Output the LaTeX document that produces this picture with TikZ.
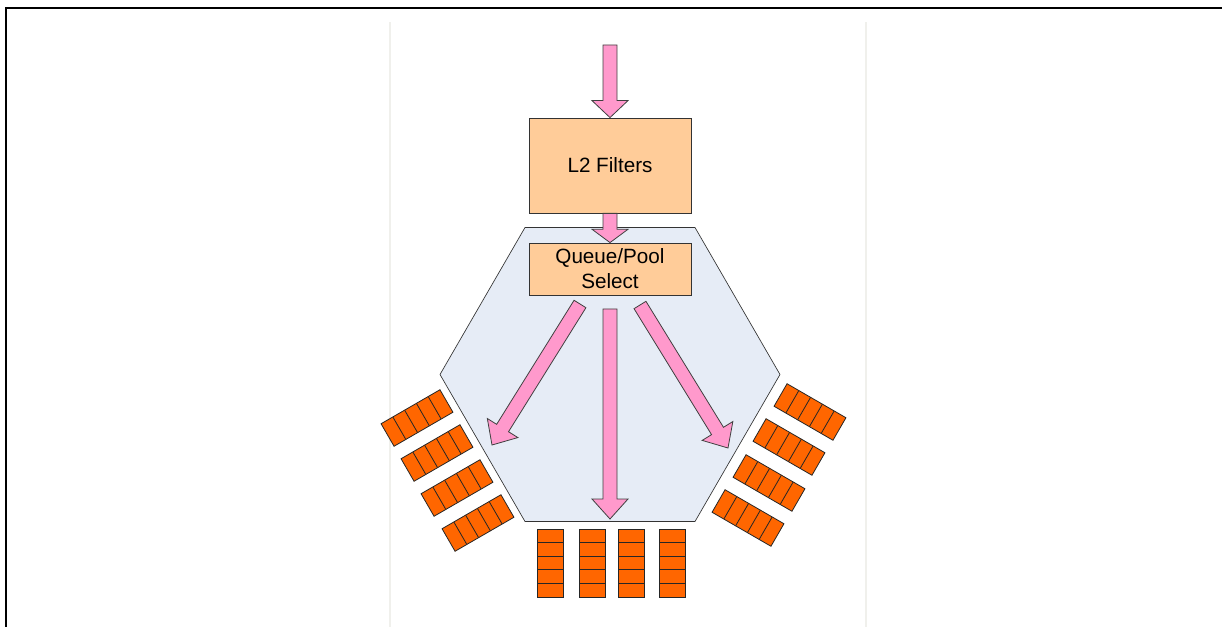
\documentclass[tikz,border=0pt]{standalone}
\usepackage{fontspec}
\setmainfont{Liberation Sans}
\usetikzlibrary{calc}
\definecolor{FilterPeach}{HTML}{FFCC99}
\definecolor{ArrowPink}{HTML}{FF99CC}
\definecolor{QueueOrange}{HTML}{FF6600}
\definecolor{PoolBlue}{HTML}{E6ECF6}
\definecolor{PanelGray}{HTML}{F0F0EC}

% block arrow from #2 to #3, optional head length
\newcommand{\fatarrow}[3][12.75pt]{%
  \coordinate (fa-h) at ($(#3)!#1!(#2)$);
  \filldraw[fatarrow] ($(#2)!5.25pt!90:(#3)$) -- ($(fa-h)!5.25pt!-90:(#2)$)
    -- ($(fa-h)!13.5pt!-90:(#2)$) -- (#3) -- ($(fa-h)!13.5pt!90:(#2)$)
    -- ($(fa-h)!5.25pt!90:(#2)$) -- ($(#2)!5.25pt!-90:(#3)$) -- cycle;}

\tikzset{
  pics/queue/.style={code={
    \draw[queuebox] (-34,-13) rectangle (34,13);
    \foreach \k in {1,...,4}
      \draw[queuebox] ({-34+13.6*\k},-13) -- ({-34+13.6*\k},13);
  }}
}

\begin{document}
\begin{tikzpicture}[
  x=0.75pt, y=-0.75pt,
  font=\fontsize{15.5}{18.75}\selectfont,
  stagebox/.style={draw=black!80, fill=FilterPeach, line width=0.6pt,
    minimum width=121.5pt, inner sep=0pt, align=center},
  queuebox/.style={draw=black!85, fill=QueueOrange, line width=0.6pt},
  fatarrow/.style={draw=black!75, fill=ArrowPink, line width=0.6pt, line join=miter},
  pool/.style={draw=black!80, fill=PoolBlue, line width=0.5pt},
  panel/.style={draw=PanelGray, line width=0.8pt}
]
\useasboundingbox (0,0) rectangle (1222,627);

\draw[line width=1.5pt] (6,627) -- (6,8) -- (1222,8);
\draw[panel] (390,22) -- (390,627);
\draw[panel] (866,22) -- (866,627);

\filldraw[pool] (525,227.5) -- (695,227.5) -- (780,374.5) -- (695,521.5)
  -- (525,521.5) -- (440,374.5) -- cycle;

% queues round the pool
\foreach \p in {(417,418),(437,453),(457,488),(478,523)}
  \pic[rotate=30] at \p {queue};
\foreach \p in {(550,563),(592,563),(631,563),(672,563)}
  \pic[rotate=90] at \p {queue};
\foreach \p in {(810,412),(789,447),(769,483),(748,518)}
  \pic[rotate=-30] at \p {queue};

\node[stagebox, minimum height=71.25pt] (l2) at (610,165.5) {L2 Filters};
\node[stagebox, minimum height=39pt] (select) at (610,269) {Queue/Pool\\Select};

\coordinate (in) at (610,45);
\coordinate (out-l) at (580,304);
\coordinate (out-m) at (610,309);
\coordinate (out-r) at (640,305);
\coordinate (to-l) at (492,445);
\coordinate (to-m) at (610,519);
\coordinate (to-r) at (728,448);

\fatarrow{in}{l2.north}
\fatarrow[10pt]{l2.south}{select.north}
\fatarrow[15pt]{out-l}{to-l}
\fatarrow[15pt]{out-m}{to-m}
\fatarrow[15pt]{out-r}{to-r}

\end{tikzpicture}
\end{document}
